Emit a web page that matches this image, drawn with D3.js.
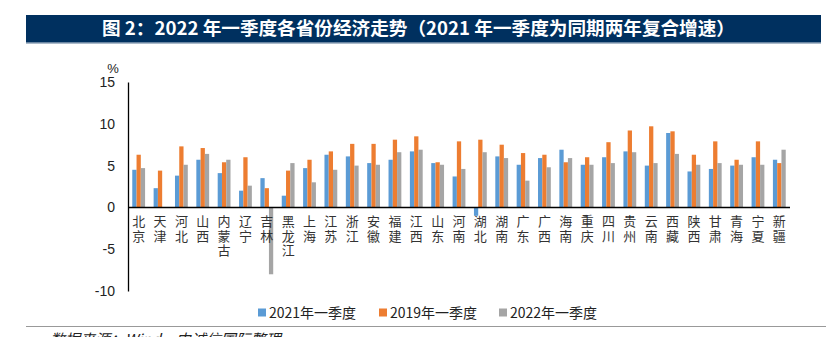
<!DOCTYPE html>
<html>
<head>
<meta charset="utf-8">
<script src="https://cdn.jsdelivr.net/npm/d3@7"></script>
<style>
  body { margin: 0; background: #fff; }
  svg { display: block; }
  text { font-family: "Liberation Sans", "Noto Sans CJK SC", sans-serif; }
  .cat { writing-mode: vertical-rl; text-orientation: upright; letter-spacing: 1.5px; }
</style>
</head>
<body>
<svg width="826" height="337"></svg>
<script>
var provinces = ["北京", "天津", "河北", "山西", "内蒙古", "辽宁", "吉林", "黑龙江", "上海", "江苏",
  "浙江", "安徽", "福建", "江西", "山东", "河南", "湖北", "湖南", "广东", "广西", "海南",
  "重庆", "四川", "贵州", "云南", "西藏", "陕西", "甘肃", "青海", "宁夏", "新疆"];

// two-year average growth for 2021 Q1, %
var q1_2021 = [4.5, 2.3, 3.8, 5.7, 4.1, 2.0, 3.5, 1.4, 4.7, 6.3,
  6.1, 5.3, 5.7, 6.7, 5.3, 3.7, -1.0, 6.1, 5.1, 5.9, 6.9,
  5.1, 6.0, 6.7, 5.0, 8.9, 4.3, 4.6, 5.0, 6.0, 5.7];

var q1_2019 = [6.3, 4.4, 7.3, 7.1, 5.4, 6.0, 2.3, 4.4, 5.7, 6.7,
  7.6, 7.6, 8.1, 8.5, 5.4, 7.9, 8.1, 7.5, 6.5, 6.3, 5.4,
  6.0, 7.8, 9.2, 9.7, 9.1, 6.3, 7.9, 5.7, 7.9, 5.3];

// Tianjin has no value here
var q1_2022 = [4.7, null, 5.1, 6.4, 5.7, 2.6, -8.0, 5.3, 3.0, 4.5,
  5.0, 5.1, 6.6, 6.9, 5.1, 4.6, 6.6, 5.9, 3.2, 4.8, 5.9,
  5.1, 5.3, 6.6, 5.3, 6.4, 5.1, 5.3, 5.1, 5.1, 6.9];

var seriesNames = ["2021年一季度", "2019年一季度", "2022年一季度"];
var seriesColors = ["#5b9bd5", "#ed7d31", "#a5a5a5"];
var yTicks = [-10, -5, 0, 5, 10, 15];

var title = "图 2：2022 年一季度各省份经济走势（2021 年一季度为同期两年复合增速）";
var source = "数据来源：Wind，中诚信国际整理";

var svg = d3.select("svg");

var series = [q1_2021, q1_2019, q1_2022];
var rows = provinces.map(function(p, i) {
  return { name: p, values: series.map(function(s) { return s[i]; }) };
});

// title banner
svg.append("rect")
    .attr("x", 26).attr("y", 15)
    .attr("width", 795).attr("height", 28)
    .attr("fill", "#00305f");
svg.append("line")
    .attr("x1", 26).attr("x2", 821)
    .attr("y1", 43).attr("y2", 43)
    .attr("stroke", "#8fa3b8").attr("stroke-width", 1.5);
svg.append("text")
    .attr("x", 102).attr("y", 35)
    .attr("fill", "#fff")
    .attr("font-size", 18)
    .attr("font-weight", "bold")
    .attr("textLength", 633)
    .attr("lengthAdjust", "spacingAndGlyphs")
    .style("font-family", "'Noto Sans CJK SC', sans-serif")
    .text(title);

var x0 = d3.scaleBand()
    .domain(provinces)
    .range([128, 790])
    .paddingInner(0.4)
    .paddingOuter(0.2);

var x1 = d3.scaleBand()
    .domain(d3.range(3))
    .range([0, x0.bandwidth()]);

var y = d3.scaleLinear()
    .domain([-10, 15])
    .range([291, 82]);

// bars
var groups = svg.append("g")
  .selectAll("g")
  .data(rows)
  .enter().append("g")
    .attr("transform", function(d) { return "translate(" + x0(d.name) + ",0)"; });

groups.selectAll("rect")
  .data(function(d) {
    return d.values.map(function(v, k) { return { k: k, v: v }; })
      .filter(function(e) { return e.v != null; });
  })
  .enter().append("rect")
    .attr("x", function(d) { return x1(d.k); })
    .attr("width", x1.bandwidth())
    .attr("y", function(d) { return y(Math.max(0, d.v)); })
    .attr("height", function(d) { return Math.abs(y(d.v) - y(0)); })
    .attr("fill", function(d) { return seriesColors[d.k]; });

// y axis
var yAxis = svg.append("g")
    .attr("transform", "translate(128,0)")
    .call(d3.axisLeft(y)
      .tickValues(yTicks)
      .tickFormat(function(d) { return String(d); })
      .tickSize(0)
      .tickPadding(13));
yAxis.select(".domain").attr("stroke", "#000").attr("stroke-width", 1.3);
yAxis.selectAll("text")
    .attr("font-size", 14)
    .attr("fill", "#222")
    .style("font-family", "'Liberation Sans', sans-serif");

svg.append("text")
    .attr("x", 113).attr("y", 73)
    .attr("text-anchor", "middle")
    .attr("font-size", 13)
    .attr("fill", "#222")
    .text("%");

// zero line
svg.append("line")
    .attr("x1", 128).attr("x2", 790)
    .attr("y1", y(0)).attr("y2", y(0))
    .attr("stroke", "#000")
    .attr("stroke-width", 1.5);

// vertical category labels
svg.append("g")
  .selectAll("text")
  .data(provinces)
  .enter().append("text")
    .attr("class", "cat")
    .attr("x", function(d) { return x0(d) + x0.bandwidth() / 2; })
    .attr("y", 215)
    .attr("font-size", 13)
    .attr("fill", "#333")
    .style("font-family", "'Noto Sans CJK SC', sans-serif")
    .text(function(d) { return d; });

// legend
var legendX = [258, 379, 499];
var legend = svg.append("g")
  .selectAll("g")
  .data(seriesNames)
  .enter().append("g")
    .attr("transform", function(d, i) { return "translate(" + legendX[i] + ",313)"; });

legend.append("rect")
    .attr("x", 0).attr("y", -4.5)
    .attr("width", 8).attr("height", 8)
    .attr("fill", function(d, i) { return seriesColors[i]; });

legend.append("text")
    .attr("x", 11).attr("y", 5)
    .attr("font-size", 14)
    .attr("fill", "#222")
    .attr("textLength", 87)
    .attr("lengthAdjust", "spacingAndGlyphs")
    .style("font-family", "'Noto Sans CJK SC', sans-serif")
    .text(function(d) { return d; });

// footer rule and source line
svg.append("line")
    .attr("x1", 26).attr("x2", 826)
    .attr("y1", 326.5).attr("y2", 326.5)
    .attr("stroke", "#999")
    .attr("stroke-width", 1);

svg.append("text")
    .attr("x", 50).attr("y", 345)
    .attr("font-size", 15)
    .attr("fill", "#222")
    .style("font-style", "italic")
    .style("font-family", "'Noto Sans CJK SC', sans-serif")
    .text(source);
</script>
</body>
</html>
